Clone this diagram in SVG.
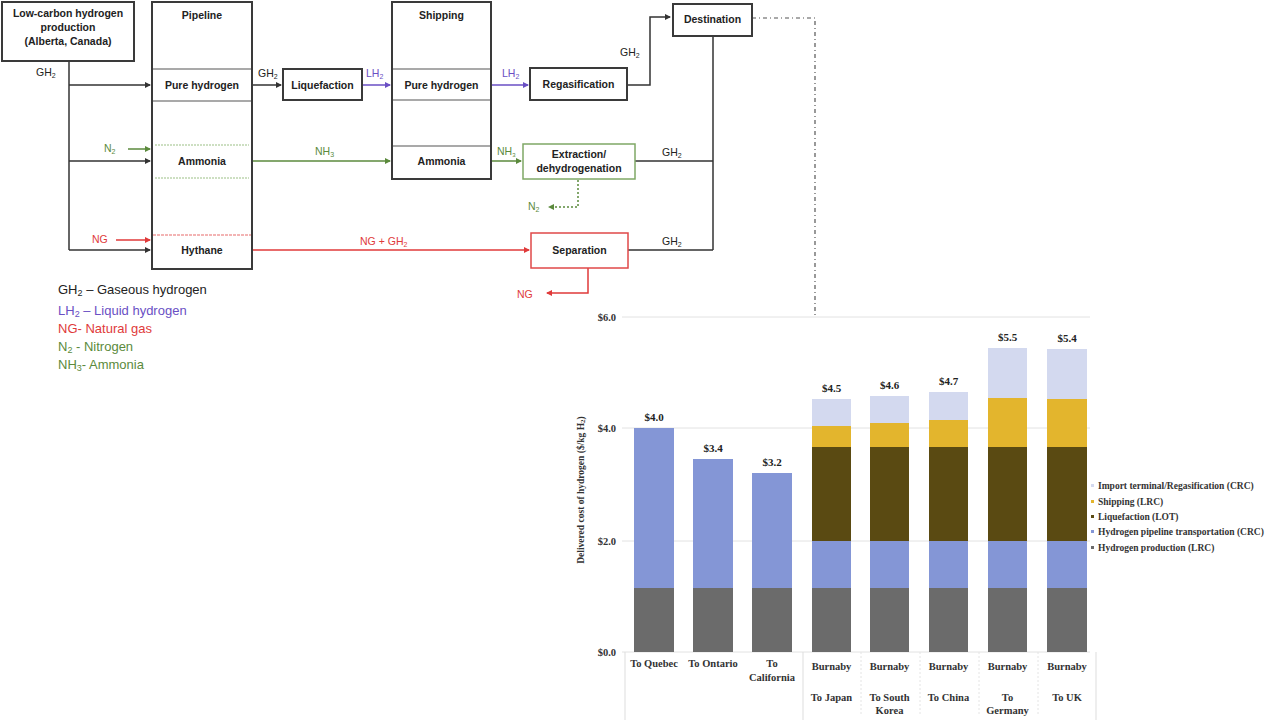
<svg xmlns="http://www.w3.org/2000/svg" width="1280" height="720" viewBox="0 0 1280 720">
<defs>
<marker id="ak" viewBox="0 0 6 6" refX="5" refY="3" markerWidth="6" markerHeight="6" orient="auto" markerUnits="userSpaceOnUse"><path d="M0,0 L6,3 L0,6 z" fill="#333"/></marker>
<marker id="ag" viewBox="0 0 6 6" refX="5" refY="3" markerWidth="6" markerHeight="6" orient="auto" markerUnits="userSpaceOnUse"><path d="M0,0 L6,3 L0,6 z" fill="#5b8a3c"/></marker>
<marker id="ap" viewBox="0 0 6 6" refX="5" refY="3" markerWidth="6" markerHeight="6" orient="auto" markerUnits="userSpaceOnUse"><path d="M0,0 L6,3 L0,6 z" fill="#6a4fc4"/></marker>
<marker id="ar" viewBox="0 0 6 6" refX="5" refY="3" markerWidth="6" markerHeight="6" orient="auto" markerUnits="userSpaceOnUse"><path d="M0,0 L6,3 L0,6 z" fill="#e03a3a"/></marker>
</defs>
<style>
.box{fill:#fff;stroke:#3a3a3a;stroke-width:2}
.gbox{fill:#fff;stroke:#7fa866;stroke-width:1.5}
.rbox{fill:#fff;stroke:#e04848;stroke-width:1.5}
.t{font-family:"Liberation Sans",Arial,sans-serif;font-size:10.5px;font-weight:bold;text-anchor:middle;fill:#222}
.lbl{font-family:"Liberation Sans",Arial,sans-serif;font-size:10.5px}
.k{stroke:#333;stroke-width:1.5;fill:none}
.g{stroke:#5b8a3c;stroke-width:1.5;fill:none}
.p{stroke:#6a4fc4;stroke-width:1.5;fill:none}
.r{stroke:#e03a3a;stroke-width:1.5;fill:none}
.leg{font-family:"Liberation Sans",Arial,sans-serif;font-size:13px}
.ax{font-family:"Liberation Serif","Times New Roman",serif;font-size:10.5px;font-weight:bold;fill:#333;text-anchor:end}
.val{font-family:"Liberation Serif","Times New Roman",serif;font-size:11px;font-weight:bold;fill:#222;text-anchor:middle}
.cat{font-family:"Liberation Serif","Times New Roman",serif;font-size:10.5px;font-weight:bold;fill:#333;text-anchor:middle}
.cl{font-family:"Liberation Serif","Times New Roman",serif;font-size:9.5px;font-weight:bold;fill:#333}
.grid{stroke:#e2e2e2;stroke-width:1}
.c1{fill:#6b6b6b}.c2{fill:#8496d6}.c3{fill:#5a4a12}.c4{fill:#e3b52d}.c5{fill:#d3d9ef}
</style>

<g id="connectors">
<path class="k" d="M69 61 V250"/>
<path class="k" d="M69 85 H150" marker-end="url(#ak)"/>
<path class="k" d="M69 161 H150" marker-end="url(#ak)"/>
<path class="k" d="M69 250 H150" marker-end="url(#ak)"/>
<path class="k" d="M252 85 H281" marker-end="url(#ak)"/>
<path class="k" d="M627 85 H650 V17 H670" marker-end="url(#ak)"/>
<path class="k" d="M713 36 V250 M635 161 H713 M628 250 H713"/>
<path class="g" d="M128 149 H150" marker-end="url(#ag)"/>
<path class="g" d="M252 161 H390" marker-end="url(#ag)"/>
<path class="g" d="M491 161 H521" marker-end="url(#ag)"/>
<path class="g" d="M578 180 V207 H549" stroke-dasharray="2 2" stroke-width="1" marker-end="url(#ag)"/>
<path class="p" d="M362 85 H390" marker-end="url(#ap)"/>
<path class="p" d="M491 85 H528" marker-end="url(#ap)"/>
<path class="r" d="M116 240 H150" marker-end="url(#ar)"/>
<path class="r" d="M252 250 H529" marker-end="url(#ar)"/>
<path class="r" d="M588 268 V293 H547" marker-end="url(#ar)"/>
<path d="M752 18 H815 V315" fill="none" stroke="#555" stroke-width="1.2" stroke-dasharray="4 3 1 3"/>
<text class="lbl" x="36" y="76" fill="#222">GH<tspan font-size="7" dy="2">2</tspan></text>
<text class="lbl" x="258" y="77" fill="#222">GH<tspan font-size="7" dy="2">2</tspan></text>
<text class="lbl" x="366" y="77" fill="#6a4fc4">LH<tspan font-size="7" dy="2">2</tspan></text>
<text class="lbl" x="502" y="77" fill="#6a4fc4">LH<tspan font-size="7" dy="2">2</tspan></text>
<text class="lbl" x="620" y="56" fill="#222">GH<tspan font-size="7" dy="2">2</tspan></text>
<text class="lbl" x="104" y="152" fill="#5b8a3c">N<tspan font-size="7" dy="2">2</tspan></text>
<text class="lbl" x="315" y="155" fill="#5b8a3c">NH<tspan font-size="7" dy="2">3</tspan></text>
<text class="lbl" x="497" y="155" fill="#5b8a3c" font-size="9">NH<tspan font-size="6" dy="2">3</tspan></text>
<text class="lbl" x="528" y="210" fill="#5b8a3c">N<tspan font-size="7" dy="2">2</tspan></text>
<text class="lbl" x="662" y="156" fill="#222">GH<tspan font-size="7" dy="2">2</tspan></text>
<text class="lbl" x="662" y="245" fill="#222">GH<tspan font-size="7" dy="2">2</tspan></text>
<text class="lbl" x="92" y="243" fill="#e03a3a">NG</text>
<text class="lbl" x="360" y="245" fill="#e03a3a">NG + GH<tspan font-size="7" dy="2">2</tspan></text>
<text class="lbl" x="517" y="298" fill="#e03a3a">NG</text>
</g>

<g id="production">
<rect class="box" x="2" y="2" width="132" height="59"/>
<text class="t" x="68" y="17">Low-carbon hydrogen</text>
<text class="t" x="68" y="31">production</text>
<text class="t" x="68" y="45" font-size="8.5">(Alberta, Canada)</text>
</g>

<g id="pipeline">
<rect class="box" x="152" y="2" width="100" height="267"/>
<text class="t" x="202" y="19">Pipeline</text>
<path d="M153 69 H251 M153 101 H251" stroke="#555" stroke-width="1.2"/>
<text class="t" x="202" y="89">Pure hydrogen</text>
<path d="M155 145 H249 M155 178 H249" stroke="#9cbf86" stroke-width="1.2" stroke-dasharray="2 1"/>
<text class="t" x="202" y="165" fill="#4f7f33">Ammonia</text>
<path d="M153 235 H251" stroke="#e86a6a" stroke-width="1.2" stroke-dasharray="3 1"/>
<text class="t" x="202" y="254" fill="#d42a2a">Hythane</text>
</g>

<g id="liquefaction">
<rect class="box" x="283" y="69" width="79" height="31"/>
<text class="t" x="322.5" y="89">Liquefaction</text>
</g>

<g id="shipping">
<rect class="box" x="392" y="2" width="99" height="177"/>
<text class="t" x="441.5" y="19">Shipping</text>
<path d="M393 69 H490 M393 100 H490 M393 146 H490" stroke="#555" stroke-width="1.2"/>
<text class="t" x="441.5" y="89">Pure hydrogen</text>
<text class="t" x="441.5" y="165" fill="#4f7f33">Ammonia</text>
</g>

<g id="regasification">
<rect class="box" x="530" y="68" width="97" height="32"/>
<text class="t" x="578.5" y="88">Regasification</text>
</g>

<g id="destination">
<rect class="box" x="673" y="4" width="79" height="32"/>
<text class="t" x="712.5" y="23">Destination</text>
</g>

<g id="extraction">
<rect class="gbox" x="523" y="144" width="112" height="35"/>
<text class="t" x="579" y="158" fill="#4f7f33" font-weight="normal" font-size="11">Extraction/</text>
<text class="t" x="579" y="172" fill="#4f7f33" font-weight="normal" font-size="11">dehydrogenation</text>
</g>

<g id="separation">
<rect class="rbox" x="531" y="233" width="97" height="35"/>
<text class="t" x="579.5" y="254" fill="#d42a2a" font-weight="normal" font-size="11">Separation</text>
</g>

<g id="legend">
<text class="leg" x="58" y="294" fill="#222">GH<tspan font-size="9" dy="2">2</tspan><tspan dy="-2"> – Gaseous hydrogen</tspan></text>
<text class="leg" x="58" y="315" fill="#6a4fc4">LH<tspan font-size="9" dy="2">2</tspan><tspan dy="-2"> – Liquid hydrogen</tspan></text>
<text class="leg" x="58" y="333" fill="#e03a3a">NG- Natural gas</text>
<text class="leg" x="58" y="351" fill="#5b8a3c">N<tspan font-size="9" dy="2">2</tspan><tspan dy="-2"> - Nitrogen</tspan></text>
<text class="leg" x="58" y="369" fill="#5b8a3c">NH<tspan font-size="9" dy="2">3</tspan><tspan dy="-2">- Ammonia</tspan></text>
</g>

<g id="chart">
<path class="grid" d="M622 317 H1090 M622 428 H1090 M622 541 H1090 M622 652 H1090"/>
<text class="ax" x="616" y="321">$6.0</text>
<text class="ax" x="616" y="432">$4.0</text>
<text class="ax" x="616" y="545">$2.0</text>
<text class="ax" x="616" y="656">$0.0</text>
<text class="cl" transform="translate(584 490) rotate(-90)" text-anchor="middle" font-size="9.5">Delivered cost of hydrogen ($/kg H<tspan font-size="7" dy="1">2</tspan><tspan dy="-1">)</tspan></text>

<rect class="c1" x="634" y="588" width="40" height="64"/><rect class="c2" x="634" y="428" width="40" height="160"/>
<rect class="c1" x="693" y="588" width="40" height="64"/><rect class="c2" x="693" y="459" width="40" height="129"/>
<rect class="c1" x="752" y="588" width="40" height="64"/><rect class="c2" x="752" y="473" width="40" height="115"/>

<rect class="c1" x="812" y="588" width="39" height="64"/><rect class="c2" x="812" y="541" width="39" height="47"/><rect class="c3" x="812" y="447" width="39" height="94"/><rect class="c4" x="812" y="426" width="39" height="21"/><rect class="c5" x="812" y="399" width="39" height="27"/>
<rect class="c1" x="870" y="588" width="39" height="64"/><rect class="c2" x="870" y="541" width="39" height="47"/><rect class="c3" x="870" y="447" width="39" height="94"/><rect class="c4" x="870" y="423" width="39" height="24"/><rect class="c5" x="870" y="396" width="39" height="27"/>
<rect class="c1" x="929" y="588" width="39" height="64"/><rect class="c2" x="929" y="541" width="39" height="47"/><rect class="c3" x="929" y="447" width="39" height="94"/><rect class="c4" x="929" y="420" width="39" height="27"/><rect class="c5" x="929" y="392" width="39" height="28"/>
<rect class="c1" x="988" y="588" width="39" height="64"/><rect class="c2" x="988" y="541" width="39" height="47"/><rect class="c3" x="988" y="447" width="39" height="94"/><rect class="c4" x="988" y="398" width="39" height="49"/><rect class="c5" x="988" y="348" width="39" height="50"/>
<rect class="c1" x="1047" y="588" width="40" height="64"/><rect class="c2" x="1047" y="541" width="40" height="47"/><rect class="c3" x="1047" y="447" width="40" height="94"/><rect class="c4" x="1047" y="399" width="40" height="48"/><rect class="c5" x="1047" y="349" width="40" height="50"/>

<text class="val" x="654" y="421">$4.0</text>
<text class="val" x="713" y="452">$3.4</text>
<text class="val" x="772" y="466">$3.2</text>
<text class="val" x="831.5" y="392">$4.5</text>
<text class="val" x="889.5" y="389">$4.6</text>
<text class="val" x="948.5" y="385">$4.7</text>
<text class="val" x="1007.5" y="341">$5.5</text>
<text class="val" x="1067" y="342">$5.4</text>

<path d="M625 652 V720 M803 652 V720 M1096 652 V720" stroke="#ddd" stroke-width="1"/>
<path d="M861 652 V715 M920 652 V715 M979 652 V715 M1038 652 V715" stroke="#e4e4e4" stroke-width="1" stroke-dasharray="2 2"/>

<text class="cat" x="654" y="667">To Quebec</text>
<text class="cat" x="713" y="667">To Ontario</text>
<text class="cat" x="772" y="667">To</text>
<text class="cat" x="772" y="681">California</text>
<text class="cat" x="831.5" y="670">Burnaby</text>
<text class="cat" x="889.5" y="670">Burnaby</text>
<text class="cat" x="948.5" y="670">Burnaby</text>
<text class="cat" x="1007.5" y="670">Burnaby</text>
<text class="cat" x="1067" y="670">Burnaby</text>
<text class="cat" x="831.5" y="701">To Japan</text>
<text class="cat" x="889.5" y="701">To South</text>
<text class="cat" x="889.5" y="714">Korea</text>
<text class="cat" x="948.5" y="701">To China</text>
<text class="cat" x="1007.5" y="701">To</text>
<text class="cat" x="1007.5" y="714">Germany</text>
<text class="cat" x="1067" y="701">To UK</text>

<rect class="c5" x="1091" y="484" width="3" height="3"/><text class="cl" x="1098" y="489">Import terminal/Regasification (CRC)</text>
<rect class="c4" x="1091" y="500" width="3" height="3"/><text class="cl" x="1098" y="505">Shipping (LRC)</text>
<rect class="c3" x="1091" y="515" width="3" height="3"/><text class="cl" x="1098" y="520">Liquefaction (LOT)</text>
<rect class="c2" x="1091" y="530" width="3" height="3"/><text class="cl" x="1098" y="535">Hydrogen pipeline transportation (CRC)</text>
<rect class="c1" x="1091" y="546" width="3" height="3"/><text class="cl" x="1098" y="551">Hydrogen production (LRC)</text>
</g>
</svg>
